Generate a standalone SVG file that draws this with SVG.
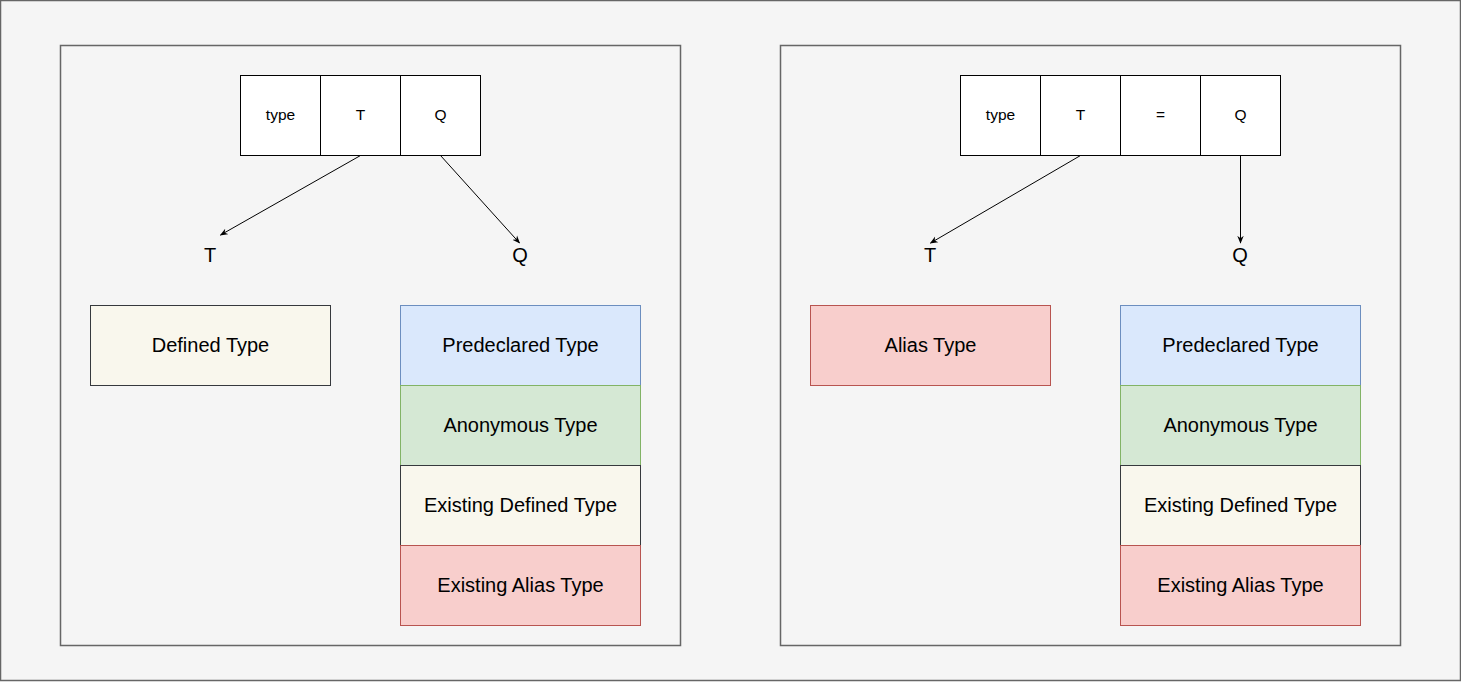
<svg xmlns="http://www.w3.org/2000/svg" width="1461" height="682" viewBox="0 0 1461 682">
<defs>
<style>
.frame{fill:#f5f5f5;stroke:#666666;stroke-width:1.5}
.cell{fill:#ffffff;stroke:#000000;stroke-width:1}
.t14{font-family:"Liberation Sans",Arial,sans-serif;font-size:15.5px;fill:#000;text-anchor:middle;dominant-baseline:central}
.t18{font-family:"Liberation Sans",Arial,sans-serif;font-size:20px;fill:#000;text-anchor:middle;dominant-baseline:central}
.blue{fill:#dae8fc;stroke:#6c8ebf}
.green{fill:#d5e8d4;stroke:#82b366}
.beige{fill:#f9f7ed;stroke:#36393d}
.red{fill:#f8cecc;stroke:#b85450}
.conn{fill:none;stroke:#000;stroke-width:1}
</style>
<marker id="arr" viewBox="0 0 10 10" refX="9" refY="5" markerWidth="8" markerHeight="8" orient="auto" markerUnits="userSpaceOnUse">
<path d="M0,1 L10,5 L0,9 L3,5 Z" fill="#000"/>
</marker>
</defs>
<rect class="frame" x="0.5" y="0.5" width="1460" height="680"/>
<rect class="frame" x="60.5" y="45.5" width="620" height="600"/>
<rect class="frame" x="780.5" y="45.5" width="620" height="600"/>

<g id="left-decl">
<rect class="cell" x="240.5" y="75.5" width="80" height="80"/><text class="t14" x="280.5" y="114.5">type</text>
<rect class="cell" x="320.5" y="75.5" width="80" height="80"/><text class="t14" x="360.5" y="114.5">T</text>
<rect class="cell" x="400.5" y="75.5" width="80" height="80"/><text class="t14" x="440.5" y="114.5">Q</text>
</g>
<g id="left-T-label"><text class="t18" x="210" y="255">T</text></g>
<g id="left-Q-label"><text class="t18" x="520" y="255">Q</text></g>
<g id="left-defined"><rect class="beige" x="90.5" y="305.5" width="240" height="80"/><text class="t18" x="210.5" y="345">Defined Type</text></g>
<g id="left-stack">
<rect class="blue" x="400.5" y="305.5" width="240" height="80"/><text class="t18" x="520.5" y="345">Predeclared Type</text>
<rect class="green" x="400.5" y="385.5" width="240" height="80"/><text class="t18" x="520.5" y="425">Anonymous Type</text>
<rect class="beige" x="400.5" y="465.5" width="240" height="80"/><text class="t18" x="520.5" y="505">Existing Defined Type</text>
<rect class="red" x="400.5" y="545.5" width="240" height="80"/><text class="t18" x="520.5" y="585">Existing Alias Type</text>
</g>

<g id="right-decl">
<rect class="cell" x="960.5" y="75.5" width="80" height="80"/><text class="t14" x="1000.5" y="114.5">type</text>
<rect class="cell" x="1040.5" y="75.5" width="80" height="80"/><text class="t14" x="1080.5" y="114.5">T</text>
<rect class="cell" x="1120.5" y="75.5" width="80" height="80"/><text class="t14" x="1160.5" y="114.5">=</text>
<rect class="cell" x="1200.5" y="75.5" width="80" height="80"/><text class="t14" x="1240.5" y="114.5">Q</text>
</g>
<g id="right-T-label"><text class="t18" x="930" y="255">T</text></g>
<g id="right-Q-label"><text class="t18" x="1240" y="255">Q</text></g>
<g id="right-alias"><rect class="red" x="810.5" y="305.5" width="240" height="80"/><text class="t18" x="930.5" y="345">Alias Type</text></g>
<g id="right-stack">
<rect class="blue" x="1120.5" y="305.5" width="240" height="80"/><text class="t18" x="1240.5" y="345">Predeclared Type</text>
<rect class="green" x="1120.5" y="385.5" width="240" height="80"/><text class="t18" x="1240.5" y="425">Anonymous Type</text>
<rect class="beige" x="1120.5" y="465.5" width="240" height="80"/><text class="t18" x="1240.5" y="505">Existing Defined Type</text>
<rect class="red" x="1120.5" y="545.5" width="240" height="80"/><text class="t18" x="1240.5" y="585">Existing Alias Type</text>
</g>

<g id="connectors">
<line class="conn" x1="360.5" y1="155.5" x2="220.5" y2="235" marker-end="url(#arr)"/>
<line class="conn" x1="440.5" y1="155.5" x2="519.5" y2="243" marker-end="url(#arr)"/>
<line class="conn" x1="1080.5" y1="155.5" x2="930.5" y2="243" marker-end="url(#arr)"/>
<line class="conn" x1="1240.5" y1="155.5" x2="1240.5" y2="243" marker-end="url(#arr)"/>
</g>
</svg>
